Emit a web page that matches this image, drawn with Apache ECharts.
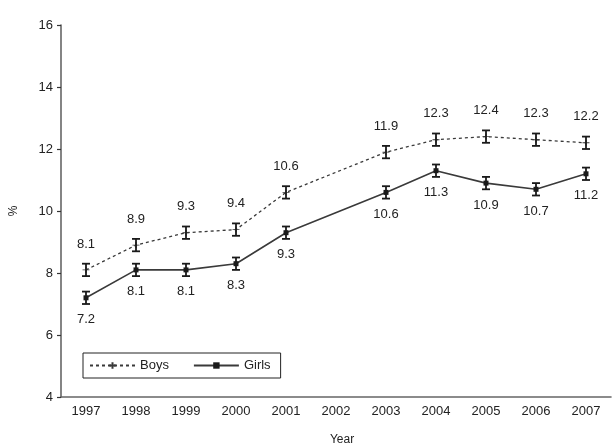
<!DOCTYPE html>
<html>
<head>
<meta charset="utf-8">
<script src="https://cdn.jsdelivr.net/npm/echarts@6/dist/echarts.min.js"></script>
<style>
  html, body { margin: 0; padding: 0; background: #fff; }
  #chart { width: 615px; height: 446px; }
</style>
</head>
<body>
<div id="chart"></div>
<script>
// Survey years on the category axis (no survey in 2002)
const years = ['1997', '1998', '1999', '2000', '2001', '2002', '2003', '2004', '2005', '2006', '2007'];
// Prevalence (%) by year
const boys  = [8.1, 8.9, 9.3, 9.4, 10.6, null, 11.9, 12.3, 12.4, 12.3, 12.2];
const girls = [7.2, 8.1, 8.1, 8.3, 9.3, null, 10.6, 11.3, 10.9, 10.7, 11.2];
// Half-width of the confidence interval (%)
const boysErr  = [0.2, 0.2, 0.2, 0.2, 0.2, null, 0.2, 0.2, 0.2, 0.2, 0.2];
const girlsErr = [0.2, 0.2, 0.2, 0.2, 0.2, null, 0.2, 0.2, 0.2, 0.2, 0.2];
// Value-axis ticks
const yTicks = [4, 6, 8, 10, 12, 14, 16];

const ink = '#222';
const lineInk = '#3a3a3a';

function errData(vals, errs) {
  const out = [];
  vals.forEach((v, i) => {
    if (v !== null) out.push([i, v - errs[i], v + errs[i]]);
  });
  return out;
}

function errRender(params, api) {
  const lo = api.coord([api.value(0), api.value(1)]);
  const hi = api.coord([api.value(0), api.value(2)]);
  const cap = 4;
  const style = { stroke: '#1a1a1a', lineWidth: 1.8 };
  return {
    type: 'group',
    children: [
      { type: 'line', shape: { x1: lo[0], y1: lo[1], x2: hi[0], y2: hi[1] }, style },
      { type: 'line', shape: { x1: lo[0] - cap, y1: lo[1], x2: lo[0] + cap, y2: lo[1] }, style },
      { type: 'line', shape: { x1: hi[0] - cap, y1: hi[1], x2: hi[0] + cap, y2: hi[1] }, style }
    ]
  };
}

const chart = echarts.init(document.getElementById('chart'), null, { renderer: 'canvas' });
chart.setOption({
  animation: false,
  backgroundColor: '#fff',
  textStyle: { fontFamily: 'Liberation Sans, Arial, sans-serif' },
  grid: { left: 61, right: 4, top: 25, bottom: 49, containLabel: false, outerBoundsMode: 'none' },
  legend: {
    left: 83, top: 353,
    orient: 'horizontal',
    itemWidth: 45, itemHeight: 8, itemGap: 24,
    padding: [6, 10, 6, 6],
    borderColor: '#222', borderWidth: 1,
    textStyle: { fontSize: 13, color: ink },
    data: ['Boys', 'Girls']
  },
  xAxis: {
    type: 'category',
    data: years,
    boundaryGap: true,
    name: 'Year',
    nameLocation: 'middle',
    nameGap: 37,
    nameTextStyle: { fontSize: 12, color: ink, padding: [0, 0, 0, 12] },
    axisLine: { lineStyle: { color: '#666', width: 1.6 } },
    axisTick: { inside: true, length: 4, lineStyle: { color: '#333', width: 1.2 } },
    axisLabel: { fontSize: 13, color: ink, margin: 8 }
  },
  yAxis: {
    type: 'value',
    min: yTicks[0], max: yTicks[yTicks.length - 1], interval: 2,
    name: '%',
    nameLocation: 'middle',
    nameGap: 41,
    nameRotate: 90,
    nameTextStyle: { fontSize: 12, color: ink },
    splitLine: { show: false },
    axisLine: { show: true, lineStyle: { color: '#666', width: 1.6 } },
    axisTick: { show: true, length: 4, lineStyle: { color: '#333', width: 1.2 } },
    axisLabel: { fontSize: 13, color: ink, margin: 8 }
  },
  series: [
    {
      name: 'Boys',
      type: 'line',
      data: boys,
      connectNulls: true,
      symbol: 'path://M0,4 L10,4 M5,0 L5,8',
      symbolSize: [7, 6],
      itemStyle: { color: lineInk, borderColor: lineInk, borderWidth: 1 },
      lineStyle: { color: lineInk, width: 1.3, type: [3, 3] },
      label: {
        show: true, position: 'top', distance: 16,
        fontSize: 13, color: ink,
        formatter: p => p.value.toFixed(1)
      },
      z: 3
    },
    {
      name: 'Girls',
      type: 'line',
      data: girls,
      connectNulls: true,
      symbol: 'rect',
      symbolSize: 5,
      itemStyle: { color: '#1a1a1a' },
      lineStyle: { color: lineInk, width: 1.6 },
      label: {
        show: true, position: 'bottom', distance: 13,
        fontSize: 13, color: ink,
        formatter: p => p.value.toFixed(1)
      },
      z: 3
    },
    {
      name: 'BoysCI',
      type: 'custom',
      renderItem: errRender,
      data: errData(boys, boysErr),
      encode: { x: 0, y: [1, 2] },
      z: 4,
      silent: true
    },
    {
      name: 'GirlsCI',
      type: 'custom',
      renderItem: errRender,
      data: errData(girls, girlsErr),
      encode: { x: 0, y: [1, 2] },
      z: 4,
      silent: true
    }
  ]
});
</script>
</body>
</html>
